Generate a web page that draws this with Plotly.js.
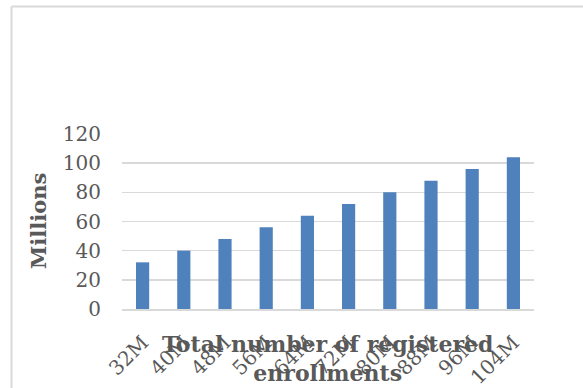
<!DOCTYPE html>
<html>
<head>
<meta charset="utf-8">
<script src="https://cdn.plot.ly/plotly-3.0.1.min.js"></script>
<style>html,body{margin:0;padding:0;background:#fff;}#chart{width:583px;height:388px;}</style>
</head>
<body>
<div id="chart"></div>
<script>
const categories = ["32M","40M","48M","56M","64M","72M","80M","88M","96M","104M"];
const values = [32,40,48,56,64,72,80,88,96,104];
const yTicks = [0,20,40,60,80,100,120];
const xTitle = "Total number of registered<br>enrollments";
const yTitle = "Millions";

const gray = "#595959";
const serif = "DejaVu Serif, Liberation Serif, serif";

const trace = {
  type: "bar",
  x: categories,
  y: values,
  marker: {color: "#4f81bd"},
  hoverinfo: "x+y"
};

const layout = {
  width: 583, height: 388,
  margin: {l: 122, r: 49, t: 134, b: 79},
  paper_bgcolor: "#fff", plot_bgcolor: "#fff",
  bargap: 0.68,
  showlegend: false,
  font: {family: serif, color: gray, size: 18},
  xaxis: {
    type: "category",
    tickangle: -45,
    showgrid: false,
    showline: true, linecolor: "#d9d9d9", linewidth: 2,
    ticks: "",
    ticklabelstandoff: 12,
    tickfont: {family: serif, size: 20, color: gray},
    automargin: false
  },
  yaxis: {
    range: [0, 120],
    tickvals: yTicks,
    ticktext: yTicks.map(String),
    showgrid: true, gridcolor: "#d9d9d9", gridwidth: 1.5,
    zeroline: false, showline: false,
    ticks: "",
    ticklabelstandoff: 20,
    tickfont: {family: serif, size: 20, color: gray},
    automargin: false
  },
  annotations: [
    {text: "<b>" + xTitle + "</b>", xref: "paper", yref: "paper",
     x: (328 - 122) / 412, y: (309 - 358) / 175, xanchor: "center", yanchor: "middle",
     showarrow: false, font: {family: serif, size: 22, color: gray}},
    {text: "<b>" + yTitle + "</b>", xref: "paper", yref: "paper",
     x: (38 - 122) / 412, y: (309 - 221) / 175, xanchor: "center", yanchor: "middle",
     textangle: -90, showarrow: false, font: {family: serif, size: 21, color: gray}}
  ],
  shapes: [
    {type: "line", xref: "paper", yref: "paper",
     x0: (11.5 - 122) / 412, x1: (583 - 122) / 412, y0: (309 - 6.5) / 175, y1: (309 - 6.5) / 175,
     line: {color: "#d9d9d9", width: 2}},
    {type: "line", xref: "paper", yref: "paper",
     x0: (11.5 - 122) / 412, x1: (11.5 - 122) / 412, y0: (309 - 6.5) / 175, y1: (309 - 388) / 175,
     line: {color: "#d9d9d9", width: 2}}
  ]
};

Plotly.newPlot("chart", [trace], layout, {displayModeBar: false, staticPlot: true});
</script>
</body>
</html>
